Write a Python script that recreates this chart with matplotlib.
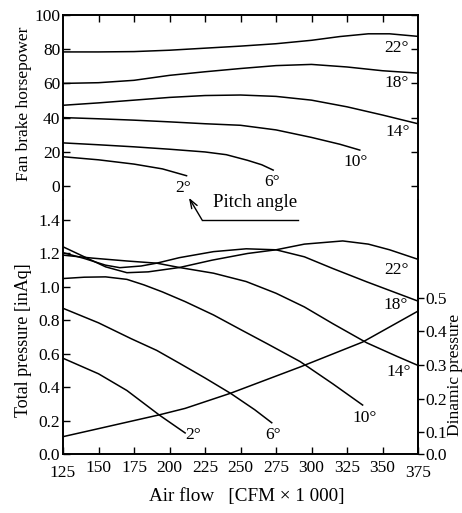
import matplotlib
matplotlib.use("Agg")
import matplotlib.pyplot as plt

plt.rcParams["font.family"] = ["Liberation Serif", "DejaVu Serif"]
plt.rcParams["font.size"] = 12.5

# --- fan brake horsepower curves (x = air flow, CFM x 1000) ---
hp_x = {
    "22°": [125, 150, 175, 200, 225, 250, 275, 300, 320, 340, 355, 375],
    "18°": [125, 150, 175, 200, 225, 250, 275, 300, 325, 350, 375],
    "14°": [125, 150, 175, 200, 225, 250, 275, 300, 325, 350, 375],
    "10°": [125, 150, 175, 200, 225, 250, 275, 300, 320, 334],
    "6°": [125, 150, 175, 200, 225, 240, 255, 265, 273],
    "2°": [125, 150, 175, 195, 212],
}
hp_y = {
    "22°": [78.4, 78.4, 78.6, 79.4, 80.6, 81.8, 83.2, 85.2, 87.4, 89.0, 89.0, 87.5],
    "18°": [60.0, 60.4, 61.8, 64.7, 66.8, 68.7, 70.4, 71.1, 69.6, 67.4, 66.0],
    "14°": [47.2, 48.6, 50.2, 51.8, 52.9, 53.2, 52.4, 50.2, 46.3, 41.5, 36.4],
    "10°": [40.0, 39.3, 38.5, 37.5, 36.4, 35.5, 32.8, 28.4, 24.4, 21.0],
    "6°": [25.2, 24.1, 22.9, 21.5, 19.9, 18.3, 15.0, 12.4, 9.3],
    "2°": [17.1, 15.3, 12.8, 10.0, 6.0],
}

# --- total pressure curves [inAq] ---
tp_x = {
    "22°": [125, 140, 155, 170, 185, 207, 230, 255, 275, 295, 322, 340, 355, 375],
    "18°": [125, 140, 155, 165, 180, 191, 207, 231, 254, 275, 295, 315, 339, 375],
    "14°": [125, 146, 170, 191, 207, 231, 254, 275, 295, 315, 339, 360, 375],
    "10°": [125, 140, 155, 170, 182, 195, 211, 231, 250, 269, 292, 315, 336],
    "6°": [125, 150, 173, 191, 207, 225, 243, 260, 272],
    "2°": [125, 150, 170, 193, 211],
}
tp_y = {
    "22°": [1.24, 1.18, 1.12, 1.085, 1.09, 1.116, 1.16, 1.20, 1.222, 1.256, 1.275, 1.256, 1.222, 1.165],
    "18°": [1.205, 1.17, 1.13, 1.115, 1.125, 1.142, 1.175, 1.211, 1.228, 1.222, 1.18, 1.11, 1.03, 0.915],
    "14°": [1.19, 1.172, 1.155, 1.142, 1.116, 1.082, 1.032, 0.962, 0.88, 0.78, 0.665, 0.585, 0.53],
    "10°": [1.05, 1.058, 1.06, 1.045, 1.012, 0.97, 0.912, 0.832, 0.745, 0.659, 0.553, 0.42, 0.293],
    "6°": [0.872, 0.785, 0.69, 0.62, 0.543, 0.455, 0.363, 0.265, 0.187],
    "2°": [0.573, 0.48, 0.38, 0.232, 0.126],
}

# --- dynamic pressure curve (right scale) ---
dyn_x = [125, 146, 170, 193, 211, 243, 292, 336, 375]
dyn_y = [0.087, 0.107, 0.13, 0.152, 0.171, 0.216, 0.294, 0.368, 0.46]

hp_ticks = [0, 20, 40, 60, 80, 100]
tp_ticks = [0.0, 0.2, 0.4, 0.6, 0.8, 1.0, 1.2, 1.4]
flow_ticks = [125, 150, 175, 200, 225, 250, 275, 300, 325, 350, 375]
dyn_ticks = [0.1, 0.2, 0.3, 0.4, 0.5]
dyn_bottom = 0.0355  # the original's "0.0" label sits at the frame corner

# label positions (x, y) in each panel's data units
hp_labels = {"22°": (360, 80.5), "18°": (360, 60), "14°": (361, 31.5),
             "10°": (331, 14), "6°": (272, 2.3), "2°": (209.5, -1.2)}
tp_labels = {"22°": (360, 1.10), "18°": (359.5, 0.89), "14°": (361.5, 0.49),
             "10°": (337.5, 0.216), "6°": (273, 0.114), "2°": (216.5, 0.114)}

fig = plt.figure(figsize=(4.62, 5.13), dpi=100)
L, W = 63 / 462, 355 / 462
ax_hp = fig.add_axes([L, (513 - 200) / 513, W, 185 / 513])
ax_p = fig.add_axes([L, (513 - 454) / 513, W, 254 / 513])
ax_d = ax_p.twinx()

lw = 1.1
for k in hp_x:
    ax_hp.plot(hp_x[k], hp_y[k], color="black", lw=lw)
for k in tp_x:
    ax_p.plot(tp_x[k], tp_y[k], color="black", lw=lw)
ax_d.plot(dyn_x, dyn_y, color="black", lw=lw)

for k, (x, y) in hp_labels.items():
    ax_hp.text(x, y, k, ha="center", va="center")
for k, (x, y) in tp_labels.items():
    ax_p.text(x, y, k, ha="center", va="center")

# pitch angle note
ax_p.text(260, 1.503, "Pitch angle", ha="center", va="center", fontsize=13.5)
ax_p.plot([222.9, 290.5], [1.401, 1.401], color="black", lw=1.0, clip_on=False)
ax_p.annotate("", xy=(213.7, 1.533), xytext=(222.9, 1.401), annotation_clip=False,
              arrowprops=dict(arrowstyle="->,head_length=0.5,head_width=0.18",
                              color="black", lw=1.0, shrinkA=0, shrinkB=0))

# axes limits and ticks
for ax in (ax_hp, ax_p):
    ax.set_xlim(125, 375)
ax_hp.set_ylim(-8.2, 100)
ax_p.set_ylim(0, 1.52)
ax_d.set_ylim(dyn_bottom, 0.79)

ax_hp.set_yticks(hp_ticks)
ax_hp.set_xticks(flow_ticks[1:-1])
ax_hp.tick_params(direction="in", length=5, width=1)
ax_hp.tick_params(axis="x", bottom=False, top=True, labelbottom=False)
ax_hp.tick_params(axis="y", right=True, pad=2)

ax_p.set_yticks(tp_ticks, [f"{t:.1f}" for t in tp_ticks])
ax_p.set_xticks(flow_ticks, [""] + [str(t) for t in flow_ticks[1:-1]] + [""])
ax_p.tick_params(direction="in", length=5, width=1)
ax_p.tick_params(axis="y", pad=2)
ax_p.tick_params(axis="x", pad=4)
for t in (flow_ticks[0], flow_ticks[-1]):
    ax_p.text(t, -0.043, str(t), transform=ax_p.get_xaxis_transform(), ha="center", va="top")

ax_d.set_yticks([dyn_bottom] + dyn_ticks, ["0.0"] + [f"{t:.1f}" for t in dyn_ticks])
ax_d.tick_params(axis="y", direction="out", length=4, width=1, pad=1)

for ax in (ax_hp, ax_p, ax_d):
    for s in ax.spines.values():
        s.set_linewidth(1.4)
ax_hp.spines["bottom"].set_visible(False)
ax_p.spines["top"].set_visible(False)
for s in ("top", "left", "bottom"):
    ax_d.spines[s].set_visible(False)

ax_hp.set_ylabel("Fan brake horsepower")
ax_hp.yaxis.set_label_coords(-0.087, 0.519)
ax_p.set_ylabel("Total pressure [inAq]", fontsize=13)
ax_p.yaxis.set_label_coords(-0.087, 0.449)
ax_d.set_ylabel("Dinamic pressure")
ax_d.yaxis.set_label_coords(1.082, 0.31)
ax_p.set_xlabel("Air flow   [CFM × 1 000]", fontsize=13.8)
ax_p.xaxis.set_label_coords(0.517, -0.135)

fig.savefig("out.png", dpi=100)
